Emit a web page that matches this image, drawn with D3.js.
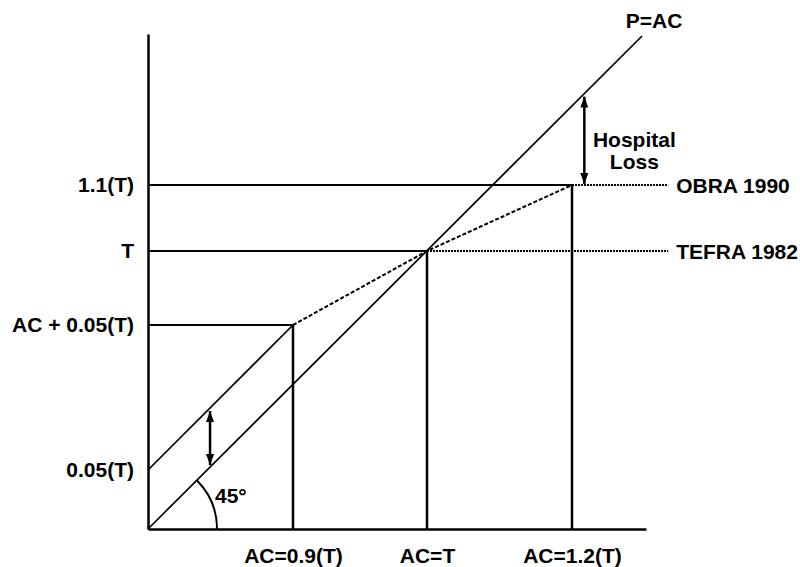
<!DOCTYPE html>
<html>
<head>
<meta charset="utf-8">
<style>
    body { margin: 0; background: #fff; }
    svg {
        display: block;
        background: #fff;
        font-family: "Liberation Sans", Arial, Helvetica, sans-serif;
    }
    svg text { fill: #000; font-size: 21px; font-weight: bold; }
    .axis path { stroke: #000; stroke-width: 2.5px; }
    .axis text { font-family: "Liberation Sans", Arial, sans-serif; font-size: 21px; font-weight: bold; }
    .solid { fill: none; stroke: #000; stroke-width: 2px; }
    .diag { fill: none; stroke: #000; stroke-width: 1.7px; }
    .vert { fill: none; stroke: #000; stroke-width: 2.5px; }
    .dashed { fill: none; stroke: #000; stroke-width: 2px; stroke-dasharray: 4 2; }
    .dotted { fill: none; stroke: #000; stroke-width: 2.2px; stroke-dasharray: 2 1; }
    .arrow { fill: none; stroke: #000; stroke-width: 2.5px; }
</style>
<script src="https://d3js.org/d3.v7.min.js"></script>
<title>Hospital payment limits</title>
</head>
<body>
<div id="chart"></div>
<script>
    // AC and P in multiples of the target T (schematic, not to scale)
    var xTickValues = [0.9, 1.0, 1.2],
        xTickLabels = ["AC=0.9(T)", "AC=T", "AC=1.2(T)"];
    var yTickValues = [0.05, 0.95, 1.0, 1.1],
        yTickLabels = ["0.05(T)", "AC + 0.05(T)", "T", "1.1(T)"];

    // payment schedule: P = AC + 0.05T up to 0.9T, then rising to the caps
    var paymentAC = [0, 0.9, 1.0, 1.2],
        paymentP = [0.05, 0.95, 1.0, 1.1];

    // caps
    var capNames = ["TEFRA 1982", "OBRA 1990"],
        capLevels = [1.0, 1.1],
        capFrom = [1.0, 1.2];

    // P=AC line end, arrows
    var limitAC = [0, 1.342],
        limitP = [0, 1.396];
    var markupAC = 0.385,
        lossAC = 1.225,
        labelEndAC = 1.395,
        axisTopP = 1.4;

    var width = 800, height = 567;

    // piecewise scales - the figure is drawn schematically
    var x = d3.scaleLinear()
        .domain([0, 0.9, 1.0, 1.2, 1.35])
        .range([148, 293, 427, 572, 646]);

    var y = d3.scaleLinear()
        .domain([0, 0.05, 0.95, 1.0, 1.1, axisTopP])
        .range([529, 470, 325, 251, 185, 34]);

    var svg = d3.select("#chart").append("svg")
        .attr("width", width)
        .attr("height", height);

    var defs = svg.append("defs");
    defs.append("marker")
        .attr("id", "head")
        .attr("viewBox", "0 0 11 8")
        .attr("refX", 11)
        .attr("refY", 4)
        .attr("markerWidth", 11)
        .attr("markerHeight", 8)
        .attr("markerUnits", "userSpaceOnUse")
        .attr("orient", "auto-start-reverse")
        .append("path")
        .attr("d", "M0,0L11,4L0,8Z")
        .attr("fill", "#000");

    var line = d3.line()
        .x(function (d) { return x(d[0]); })
        .y(function (d) { return y(d[1]); });

    // horizontal lines: AC + 0.05T and the caps
    svg.append("path").attr("class", "solid")
        .attr("d", line([[0, paymentP[1]], [paymentAC[1], paymentP[1]]]));

    capLevels.forEach(function (lvl, i) {
        svg.append("path").attr("class", "solid")
            .attr("d", line([[0, lvl], [capFrom[i], lvl]]));
        svg.append("path").attr("class", "dotted")
            .attr("d", line([[capFrom[i], lvl], [labelEndAC, lvl]]));
        svg.append("text")
            .attr("x", x(labelEndAC) + 8)
            .attr("y", y(lvl) + 8)
            .text(capNames[i]);
    });

    // vertical drop lines
    paymentAC.slice(1).forEach(function (ac, i) {
        svg.append("path").attr("class", "vert")
            .attr("d", line([[ac, 0], [ac, paymentP[i + 1]]]));
    });

    // upper diagonal (AC + 0.05T) and the dashed payment path
    svg.append("path").attr("class", "diag")
        .attr("d", line([[paymentAC[0], paymentP[0]], [paymentAC[1], paymentP[1]]]));
    svg.append("path").attr("class", "dashed")
        .attr("d", line(paymentAC.slice(1).map(function (d, i) { return [d, paymentP[i + 1]]; })));

    // P=AC
    var px0 = x(limitAC[0]), py0 = y(limitP[0]),
        px1 = x(limitAC[1]), py1 = y(limitP[1]);
    function onLimit(px) { return py0 + (py1 - py0) * (px - px0) / (px1 - px0); }

    svg.append("path").attr("class", "diag")
        .attr("d", line([[limitAC[0], limitP[0]], [limitAC[1], limitP[1]]]));
    svg.append("text")
        .attr("x", px1 + 12)
        .attr("y", py1 - 8)
        .attr("text-anchor", "middle")
        .text("P=AC");

    // axes
    svg.append("g")
        .attr("class", "axis")
        .attr("transform", "translate(" + x(0) + ",0)")
        .call(d3.axisLeft(y).tickValues(yTickValues).tickSize(0).tickPadding(14)
            .tickFormat(function (d, i) { return yTickLabels[i]; }))
        .call(function (g) { g.attr("font-size", null).attr("font-family", null); });

    svg.append("g")
        .attr("class", "axis")
        .attr("transform", "translate(0," + y(0) + ")")
        .call(d3.axisBottom(x).tickValues(xTickValues).tickSize(0).tickPadding(19)
            .tickFormat(function (d, i) { return xTickLabels[i]; }))
        .call(function (g) { g.attr("font-size", null).attr("font-family", null); });

    // 0.05T markup arrow
    var mx = x(markupAC);
    svg.append("line").attr("class", "arrow")
        .attr("x1", mx).attr("x2", mx)
        .attr("y1", y(paymentP[0] + markupAC) + 3)
        .attr("y2", onLimit(mx) - 2)
        .attr("marker-start", "url(#head)")
        .attr("marker-end", "url(#head)");

    // hospital loss arrow
    var lx = x(lossAC);
    svg.append("line").attr("class", "arrow")
        .attr("x1", lx).attr("x2", lx)
        .attr("y1", onLimit(lx) + 3)
        .attr("y2", y(capLevels[1]) - 1)
        .attr("marker-start", "url(#head)")
        .attr("marker-end", "url(#head)");

    var ly = (onLimit(lx) + y(capLevels[1])) / 2;
    svg.append("text").attr("x", lx + 50).attr("y", ly + 8)
        .attr("text-anchor", "middle").text("Hospital");
    svg.append("text").attr("x", lx + 50).attr("y", ly + 30)
        .attr("text-anchor", "middle").text("Loss");

    // 45 degree arc
    var r = 69, arc = d3.path();
    arc.moveTo(px0 + r * Math.cos(-Math.PI / 4), py0 + r * Math.sin(-Math.PI / 4));
    arc.arc(px0, py0, r, -Math.PI / 4, 0);
    svg.append("path").attr("class", "solid").attr("d", arc.toString());
    svg.append("text").attr("x", px0 + 67).attr("y", py0 - 26).text("45°");
</script>
</body>
</html>
